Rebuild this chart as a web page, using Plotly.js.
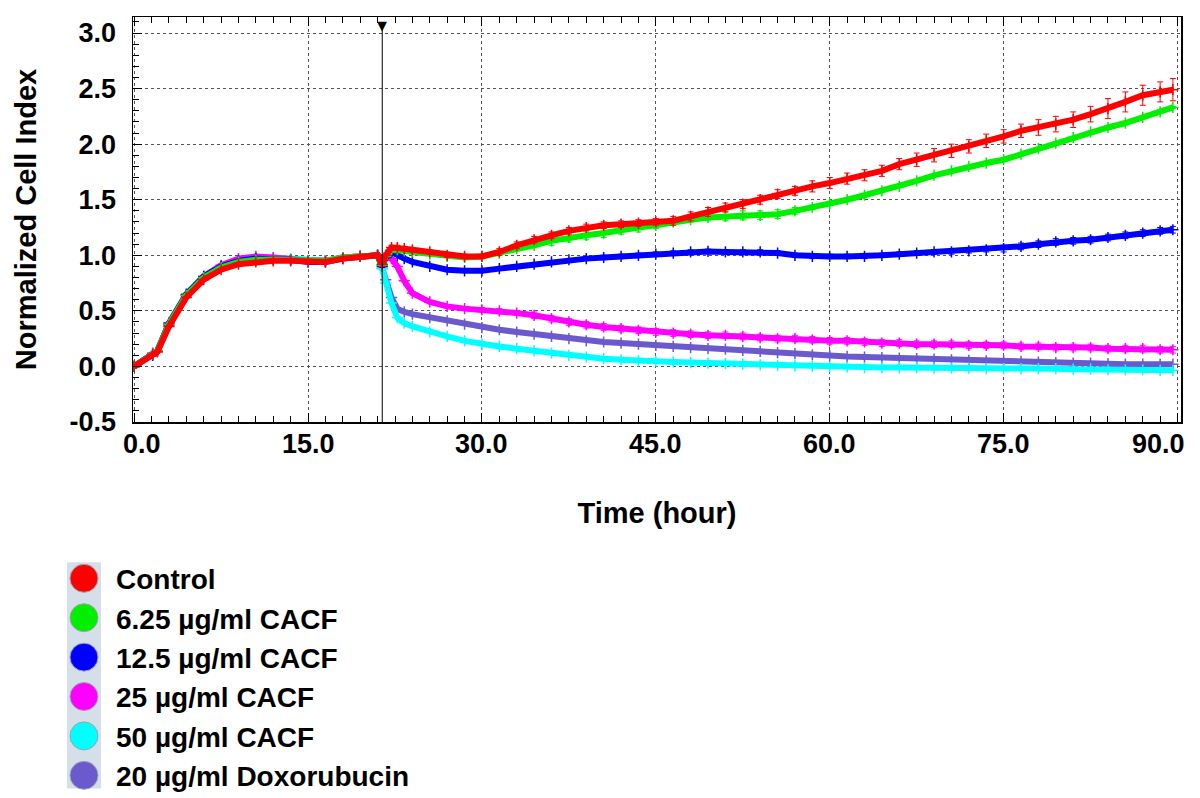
<!DOCTYPE html>
<html>
<head>
<meta charset="utf-8">
<script src="https://cdn.plot.ly/plotly-3.0.1.min.js"></script>
<style>
  html, body { margin: 0; padding: 0; background: #fff; }
  #grafico { width: 1200px; height: 798px; }
</style>
</head>
<body>
<div id="grafico"></div>
<script>
// Curvas de índice celular normalizado (xCELLigence) - leitura aproximada da figura

const tempo = [
  0, 1.6, 2, 3, 4.5, 6, 7.5, 9, 10.5, 12, 13.5, 15, 16.5, 18, 19.5, 21,
  21.4, 21.7, 22.2, 22.7, 23.3, 24,
  25.5, 27, 28.5, 30, 31.5, 33, 34.5, 36, 37.5, 39, 40.5, 42, 43.5, 45,
  46.5, 48, 49.5, 51, 52.5, 54, 55.5, 57, 58.5, 60, 61.5, 63, 64.5, 66,
  67.5, 69, 70.5, 72, 73.5, 75, 76.5, 78, 79.5, 81, 82.5, 84, 85.5, 87, 88.5,
  89.6
];

const nomes = [
  "Control",
  "6.25 µg/ml CACF",
  "12.5 µg/ml CACF",
  "25 µg/ml CACF",
  "50 µg/ml CACF",
  "20 µg/ml Doxorubucin"
];

const cores = ["#ff0000", "#00f000", "#0000ff", "#ff00ff", "#00ffff", "#6a5acd"];

const ticksX = [0, 15, 30, 45, 60, 75, 90];
const rotulosX = ["0.0", "15.0", "30.0", "45.0", "60.0", "75.0", "90.0"];
const ticksY = [-0.5, 0, 0.5, 1.0, 1.5, 2.0, 2.5, 3.0];
const rotulosY = ["-0.5", "0.0", "0.5", "1.0", "1.5", "2.0", "2.5", "3.0"];

const controle = [
  0, 0.11, 0.13, 0.36, 0.62, 0.78, 0.87, 0.92, 0.94, 0.95, 0.95, 0.94, 0.94, 0.97, 0.99, 1.00,
  0.92, 1.00, 1.07, 1.07, 1.06, 1.05,
  1.03, 1.00, 0.99, 0.99, 1.03, 1.09, 1.14, 1.18, 1.22, 1.25, 1.27, 1.28, 1.29, 1.30,
  1.31, 1.35, 1.39, 1.43, 1.46, 1.50, 1.55, 1.58, 1.62, 1.65, 1.69, 1.72, 1.76, 1.82,
  1.86, 1.90, 1.94, 1.98, 2.03, 2.07, 2.12, 2.15, 2.18, 2.22, 2.27, 2.32, 2.38, 2.44, 2.47,
  2.49
];
const cacf625 = [
  0, 0.11, 0.14, 0.38, 0.64, 0.80, 0.89, 0.94, 0.96, 0.96, 0.96, 0.95, 0.95, 0.98, 0.99, 1.00,
  0.91, 0.99, 1.05, 1.05, 1.04, 1.03,
  1.01, 0.99, 0.98, 0.99, 1.02, 1.06, 1.09, 1.13, 1.16, 1.18, 1.20, 1.23, 1.25, 1.27,
  1.30, 1.32, 1.34, 1.35, 1.36, 1.36, 1.37, 1.40, 1.43, 1.46, 1.50, 1.54, 1.58, 1.62,
  1.67, 1.72, 1.76, 1.80, 1.83, 1.86, 1.91, 1.96, 2.01, 2.06, 2.11, 2.15, 2.19, 2.24, 2.29,
  2.33
];
const cacf125 = [
  0, 0.10, 0.14, 0.39, 0.65, 0.81, 0.90, 0.95, 0.97, 0.96, 0.96, 0.94, 0.94, 0.97, 0.99, 1.00,
  0.90, 0.98, 1.03, 1.00, 0.97, 0.94,
  0.90, 0.87, 0.86, 0.86, 0.88, 0.90, 0.92, 0.94, 0.96, 0.97, 0.98, 0.99, 1.00, 1.01,
  1.02, 1.03, 1.035, 1.03, 1.03, 1.03, 1.02, 1.00, 0.99, 0.99, 0.99, 0.99, 1.00, 1.01,
  1.02, 1.03, 1.03, 1.04, 1.05, 1.06, 1.08, 1.10, 1.12, 1.13, 1.14, 1.16, 1.18, 1.20, 1.22,
  1.23
];
const cacf25 = [
  0, 0.12, 0.14, 0.37, 0.64, 0.81, 0.91, 0.97, 0.99, 0.98, 0.96, 0.95, 0.95, 0.98, 0.99, 1.00,
  0.91, 0.98, 0.97, 0.90, 0.77, 0.66,
  0.58, 0.54, 0.52, 0.51, 0.50, 0.48, 0.46, 0.43, 0.40, 0.375, 0.355, 0.34, 0.325, 0.31,
  0.30, 0.29, 0.28, 0.28, 0.27, 0.26, 0.25, 0.25, 0.24, 0.23, 0.23, 0.22, 0.21, 0.21,
  0.20, 0.20, 0.20, 0.19, 0.19, 0.19, 0.18, 0.18, 0.17, 0.17, 0.17, 0.16, 0.16, 0.16, 0.15,
  0.15
];
const cacf50 = [
  0, 0.11, 0.14, 0.37, 0.63, 0.80, 0.90, 0.96, 0.98, 0.98, 0.97, 0.95, 0.95, 0.98, 0.99, 1.00,
  0.88, 0.75, 0.57, 0.44, 0.39, 0.36,
  0.31, 0.27, 0.23, 0.20, 0.18, 0.16, 0.14, 0.12, 0.10, 0.085, 0.07, 0.06, 0.05, 0.045,
  0.04, 0.035, 0.03, 0.025, 0.02, 0.015, 0.01, 0.005, 0.0, -0.005, -0.005, -0.01, -0.01, -0.01,
  -0.01, -0.015, -0.015, -0.015, -0.02, -0.02, -0.02, -0.02, -0.02, -0.025, -0.025, -0.03, -0.03, -0.03, -0.035,
  -0.035
];
const doxo20 = [
  0, 0.11, 0.14, 0.38, 0.64, 0.80, 0.90, 0.95, 0.97, 0.97, 0.96, 0.95, 0.95, 0.98, 0.99, 1.00,
  0.88, 0.78, 0.62, 0.52, 0.49, 0.47,
  0.44, 0.41, 0.38, 0.35, 0.33, 0.31, 0.29, 0.27, 0.25, 0.23, 0.22, 0.21, 0.20, 0.19,
  0.18, 0.17, 0.16, 0.155, 0.145, 0.135, 0.125, 0.115, 0.105, 0.10, 0.09, 0.085, 0.08, 0.075,
  0.07, 0.065, 0.06, 0.055, 0.05, 0.05, 0.045, 0.04, 0.035, 0.03, 0.03, 0.025, 0.02, 0.02, 0.02,
  0.02
];

// desvios (barras de erro)
const erroControle = [
  0, 0.01, 0.01, 0.01, 0.01, 0.01, 0.01, 0.01, 0.01, 0.01, 0.01, 0.01, 0.01, 0.01, 0.01, 0.01,
  0.02, 0.02, 0.02, 0.02, 0.02, 0.02,
  0.02, 0.02, 0.02, 0.02, 0.03, 0.03, 0.03, 0.03, 0.03, 0.03, 0.03, 0.03, 0.03, 0.03,
  0.04, 0.04, 0.04, 0.04, 0.04, 0.04, 0.04, 0.04, 0.05, 0.05, 0.05, 0.05, 0.05, 0.05,
  0.06, 0.06, 0.06, 0.06, 0.06, 0.06, 0.06, 0.07, 0.07, 0.07, 0.07, 0.09, 0.09, 0.09, 0.09,
  0.10
];
const erro625 = [
  0, 0.01, 0.01, 0.01, 0.01, 0.01, 0.01, 0.01, 0.01, 0.01, 0.01, 0.01, 0.01, 0.01, 0.01, 0.01,
  0.01, 0.01, 0.01, 0.01, 0.01, 0.01,
  0.01, 0.01, 0.01, 0.01, 0.01, 0.01, 0.02, 0.04, 0.04, 0.04, 0.04, 0.04, 0.04, 0.03,
  0.02, 0.02, 0.03, 0.04, 0.04, 0.04, 0.04, 0.03, 0.02, 0.01, 0.01, 0.01, 0.01, 0.01,
  0.01, 0.01, 0.01, 0.01, 0.01, 0.01, 0.01, 0.01, 0.01, 0.01, 0.01, 0.01, 0.01, 0.01, 0.01,
  0.01
];
const erro125 = [
  0, 0.01, 0.01, 0.01, 0.01, 0.01, 0.01, 0.01, 0.01, 0.01, 0.01, 0.01, 0.01, 0.01, 0.01, 0.01,
  0.01, 0.01, 0.01, 0.01, 0.01, 0.01,
  0.01, 0.01, 0.01, 0.01, 0.01, 0.01, 0.01, 0.01, 0.01, 0.01, 0.02, 0.02, 0.02, 0.02,
  0.02, 0.02, 0.02, 0.02, 0.02, 0.02, 0.02, 0.02, 0.02, 0.02, 0.02, 0.02, 0.02, 0.02,
  0.02, 0.02, 0.02, 0.02, 0.02, 0.03, 0.03, 0.03, 0.03, 0.03, 0.03, 0.03, 0.03, 0.03, 0.03,
  0.03
];
const erro25 = [
  0, 0.01, 0.01, 0.01, 0.01, 0.01, 0.01, 0.01, 0.01, 0.01, 0.01, 0.01, 0.01, 0.01, 0.01, 0.01,
  0.01, 0.01, 0.01, 0.01, 0.01, 0.01,
  0.01, 0.01, 0.01, 0.02, 0.02, 0.02, 0.03, 0.03, 0.03, 0.03, 0.03, 0.03, 0.03, 0.03,
  0.03, 0.03, 0.03, 0.03, 0.03, 0.03, 0.03, 0.03, 0.03, 0.03, 0.03, 0.03, 0.03, 0.03,
  0.03, 0.03, 0.03, 0.03, 0.03, 0.03, 0.03, 0.03, 0.03, 0.03, 0.03, 0.03, 0.03, 0.03, 0.03,
  0.03
];

const tratamento = 21.4; // adição do composto (h)

const series = [controle, cacf625, cacf125, cacf25, cacf50, doxo20];
const erros = [erroControle, erro625, erro125, erro25, null, null];

const fonte = "Liberation Sans, Arial, Helvetica, sans-serif";

const data = [];
// desenha na ordem inversa para o controle ficar por cima
for (let i = series.length - 1; i >= 0; i--) {
  const tr = {
    x: tempo,
    y: series[i],
    type: "scatter",
    mode: "lines+markers",
    name: nomes[i],
    line: { color: cores[i], width: 6 },
    marker: { color: cores[i], size: 8, symbol: "cross-thin", line: { color: cores[i], width: 1.5 } },
    legendrank: i + 1
  };
  if (erros[i]) {
    tr.error_y = { type: "data", array: erros[i], visible: true, color: cores[i], thickness: 1, width: 3 };
  }
  data.push(tr);
}

// rótulos do eixo x como anotações: o primeiro e o último ficam puxados para dentro
const anotacoes = ticksX.map(function (v, k) {
  const ultimo = k === ticksX.length - 1;
  return {
    xref: "x", yref: "paper", x: v, y: 0,
    yanchor: "top", yshift: -5,
    xanchor: ultimo ? "right" : "center",
    xshift: k === 0 ? 8 : (ultimo ? 9 : 0),
    showarrow: false,
    text: rotulosX[k],
    font: { family: fonte, size: 27, color: "#000", weight: "bold" }
  };
});
anotacoes.push({
  xref: "x", yref: "paper", x: tratamento, y: 1.003,
  yanchor: "top", showarrow: false, text: "▼",
  font: { family: "DejaVu Sans", size: 13, color: "#000" }
});

const layout = {
  width: 1200,
  height: 798,
  paper_bgcolor: "#ffffff",
  plot_bgcolor: "#ffffff",
  margin: { l: 133, r: 19, t: 17, b: 376, autoexpand: false },
  font: { family: fonte, color: "#000", weight: "bold" },
  showlegend: true,
  legend: {
    x: -0.0773,
    xanchor: "left",
    y: -0.325,
    yanchor: "top",
    bgcolor: "rgba(0,0,0,0)",
    font: { family: fonte, size: 28, color: "#000", weight: "bold" },
    itemwidth: 54,
    tracegroupgap: 0
  },
  xaxis: {
    range: [-0.1, 90.3],
    tickmode: "array",
    tickvals: ticksX,
    showticklabels: false,
    ticks: "inside",
    ticklen: 9,
    tickwidth: 1,
    tickcolor: "#000",
    minor: { tick0: 0, dtick: 1.5, ticks: "inside", ticklen: 6, tickcolor: "#000", showgrid: false },
    showline: true,
    linecolor: "#000",
    linewidth: 1.5,
    mirror: "ticks",
    showgrid: true,
    gridcolor: "#555",
    griddash: "dot",
    gridwidth: 1,
    zeroline: false,
    title: { text: "Time (hour)", font: { family: fonte, size: 29, color: "#000", weight: "bold" }, standoff: 80 }
  },
  yaxis: {
    range: [-0.5, 3.144],
    tickmode: "array",
    tickvals: ticksY,
    ticktext: rotulosY,
    ticks: "inside",
    ticklen: 9,
    tickwidth: 1,
    tickcolor: "#000",
    ticklabelstandoff: 10,
    minor: { tick0: 0, dtick: 0.1, ticks: "inside", ticklen: 6, tickcolor: "#000", showgrid: false },
    showline: true,
    linecolor: "#000",
    linewidth: 1.5,
    mirror: true,
    showgrid: true,
    gridcolor: "#555",
    griddash: "dot",
    gridwidth: 1,
    zeroline: false,
    tickfont: { family: fonte, size: 27, color: "#000", weight: "bold" },
    title: { text: "Normalized Cell Index", font: { family: fonte, size: 29, color: "#000", weight: "bold" }, standoff: 24 }
  },
  shapes: [
    {
      type: "line", xref: "x", yref: "paper",
      x0: tratamento, x1: tratamento, y0: 0, y1: 0.98,
      line: { color: "#000", width: 1 }
    },
    {
      type: "rect", xref: "paper", yref: "paper",
      x0: -0.063, x1: -0.0305, y0: -0.905, y1: -0.346,
      fillcolor: "#d5dfea", line: { width: 0 }, layer: "below"
    }
  ],
  annotations: anotacoes
};

Plotly.newPlot("grafico", data, layout, { displayModeBar: false, staticPlot: true }).then(function () {
  // círculos maiores na legenda, como no original
  document.querySelectorAll(".legend .traces").forEach(function (g) {
    g.querySelectorAll(".legendlines, .legenderrorbars").forEach(function (el) { el.style.display = "none"; });
    g.querySelectorAll(".legendpoints path.scatterpts").forEach(function (p) {
      const cor = p.style.stroke || p.style.fill;
      p.setAttribute("d", "M14,0A14,14 0 1,1 0,-14A14,14 0 0,1 14,0Z");
      p.style.fill = cor;
      p.style.fillOpacity = 1;
      p.style.stroke = "#9aa4ae";
      p.style.strokeWidth = "1px";
    });
  });
});
</script>
</body>
</html>
